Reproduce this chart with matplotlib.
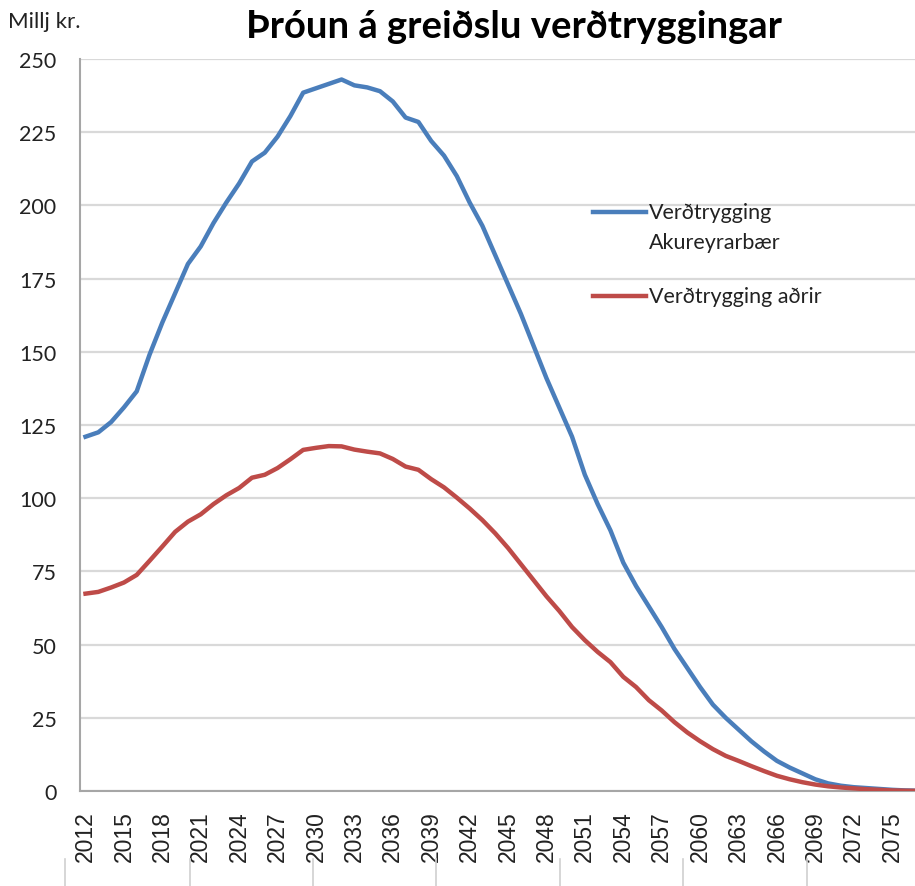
import matplotlib.pyplot as plt
from matplotlib.lines import Line2D

# Data (Millj kr. per year)
years = list(range(2012, 2078))
akureyri = [
    121, 122.5, 126, 131, 136.5, 149, 160, 170, 180, 186,
    194, 201, 207.5, 215, 218, 223.5, 230.5, 238.5, 240, 241.5,
    243, 241, 240.3, 239, 235.5, 230, 228.5, 222, 217, 210,
    201, 193, 183, 173, 163, 152, 141, 131, 121, 108,
    98, 89, 78, 70, 63, 56, 48.5, 42, 35.5, 29.5,
    25, 21, 17, 13.5, 10.3, 8, 6, 4, 2.6, 1.8,
    1.3, 1.0, 0.7, 0.4, 0.2, 0.1,
]
adrir = [
    67.4, 68, 69.5, 71.2, 73.8, 78.6, 83.5, 88.5, 92, 94.5,
    98, 101, 103.5, 107, 108, 110.3, 113.3, 116.5, 117.2, 117.8,
    117.7, 116.6, 115.9, 115.3, 113.4, 110.8, 109.7, 106.5, 103.7, 100.2,
    96.5, 92.5, 88, 83, 77.5, 72, 66.5, 61.5, 56, 51.5,
    47.5, 44, 39, 35.5, 31, 27.5, 23.5, 20, 17, 14.3,
    12, 10.3, 8.5, 6.8, 5.2, 4, 3, 2.2, 1.6, 1.2,
    0.9, 0.6, 0.4, 0.2, 0.1, 0.05,
]
yticks = list(range(0, 251, 25))
xticks = list(range(2012, 2076, 3))

BLUE = "#4a7ebb"
RED = "#be4b48"
TXT = "#222222"

fig = plt.figure(figsize=(9.15, 8.87), dpi=100)
ax = fig.add_axes([80 / 915, 1 - 792 / 887, 1 - 80 / 915 + 0.01, (792 - 60) / 887])

ax.plot(years, akureyri, color=BLUE, linewidth=3.2, solid_joinstyle="round", zorder=3)
ax.plot(years, adrir, color=RED, linewidth=3.2, solid_joinstyle="round", zorder=3)

ax.set_ylim(0, 250)
ax.set_xlim(2011.57, 2077.5)
ax.set_yticks(yticks)
ax.set_xticks(xticks)
ax.set_xticklabels([str(x) for x in xticks], rotation=90,
                   fontfamily="Liberation Sans", fontsize=16.5)
ax.set_yticklabels([str(y) for y in yticks], fontfamily="Lato", fontsize=15.5)
ax.tick_params(axis="y", length=0, pad=17, colors=TXT)
ax.tick_params(axis="x", length=0, pad=14, colors=TXT)

ax.grid(axis="y", color="#d9d9d9", linewidth=1.6)
ax.set_axisbelow(True)
for side in ["top", "right"]:
    ax.spines[side].set_visible(False)
for side in ["left", "bottom"]:
    ax.spines[side].set_color("#a6a6a6")
    ax.spines[side].set_linewidth(1.5)

# Legend drawn by hand to keep the handle on the first text line
leg_x0, leg_x1, leg_tx = (587 - 80) / 835, (640 - 80) / 835, (643 - 80) / 835
for ypix, col, label in [(213, BLUE, "Verðtrygging"), (297, RED, "Verðtrygging aðrir")]:
    yy = (792 - ypix) / 732
    ax.add_line(Line2D([leg_x0, leg_x1], [yy, yy], transform=ax.transAxes,
                       color=col, linewidth=3.2))
    ax.text(leg_tx, yy, label, transform=ax.transAxes, fontfamily="Lato",
            fontsize=15.5, va="center", ha="left", color=TXT)
ax.text(leg_tx, (792 - 243) / 732, "Akureyrarbær", transform=ax.transAxes,
        fontfamily="Lato", fontsize=15.5, va="center", ha="left", color=TXT)

fig.text(514 / 915, 1 - 27 / 887, "Þróun á greiðslu verðtryggingar",
         fontfamily="Lato", fontweight="bold", fontsize=27.5, ha="center", va="center")
fig.text(8 / 915, 1 - 22 / 887, "Millj kr.", fontfamily="Lato", fontsize=16,
         ha="left", va="center", color=TXT)

# faint separators at the very bottom of the screenshot
for xp in [65, 190, 313, 436, 560, 683, 807]:
    fig.add_artist(Line2D([xp / 915, xp / 915], [0, 27 / 887], transform=fig.transFigure,
                          color="#d0d0d0", linewidth=1.2))

fig.savefig("out.png", dpi=100)
plt.close()
